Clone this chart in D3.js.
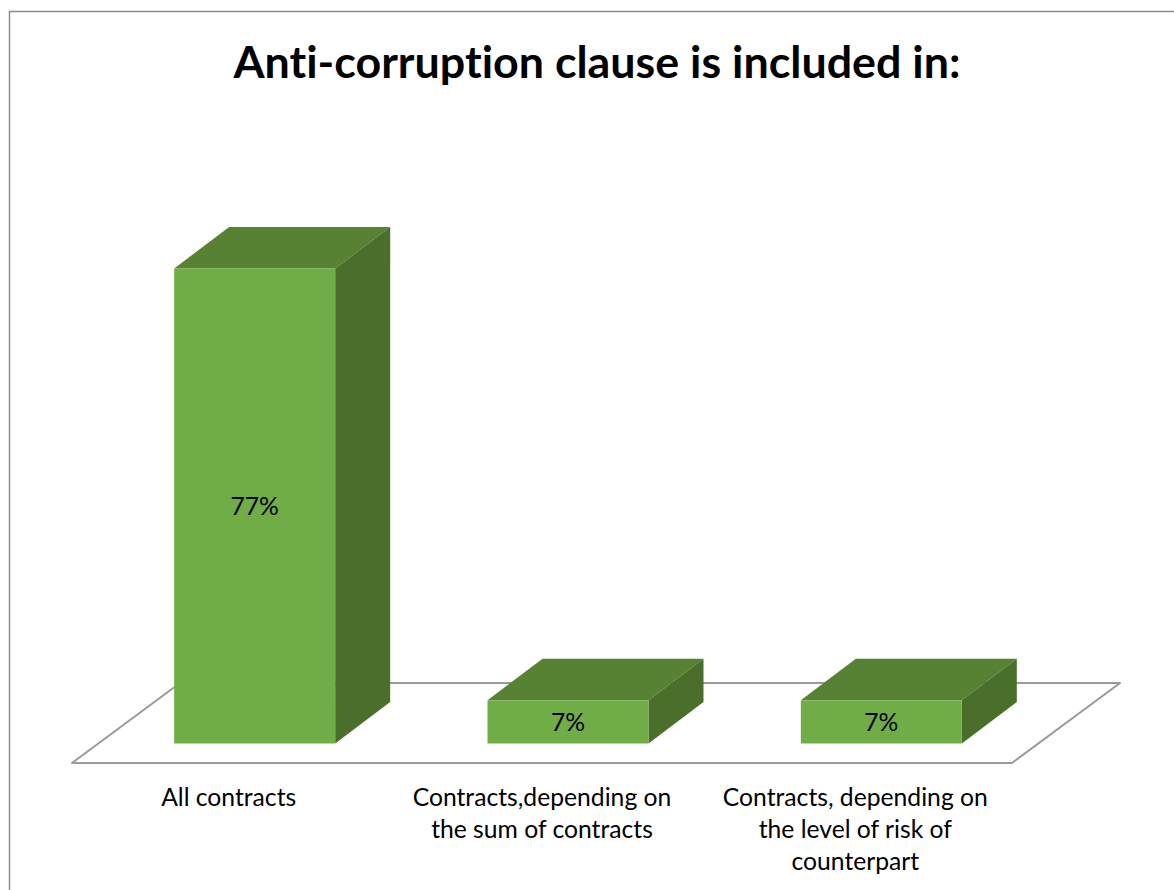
<!DOCTYPE html>
<html>
<head>
<meta charset="utf-8">
<script src="https://cdn.jsdelivr.net/npm/d3@7/dist/d3.min.js"></script>
<style>
  html, body { margin: 0; padding: 0; background: #fff; }
  svg { display: block; }
  text { font-family: Lato, "Open Sans", sans-serif; fill: #000; font-variant-ligatures: none; }
</style>
</head>
<body>
<div id="chart"></div>
<script>
var categories = [
    ["All contracts"],
    ["Contracts,depending on", "the sum of contracts"],
    ["Contracts, depending on", "the level of risk of", "counterpart"]
];
var values = [77, 7, 7];
var chartTitle = "Anti-corruption clause is included in:";

var width = 1174, height = 890;
var floor = {left: 72, right: 1012, front: 763, dx: 108, dy: -80};
var depth = {dx: 55, dy: -41.5};
var barWidth = 161;
var baseY = 743.5;
var colors = {front: "#70ad47", top: "#578234", side: "#4a6f2b", line: "#9a9a9a", frame: "#8c8c8c"};

var svg = d3.select("#chart").append("svg")
    .attr("width", width)
    .attr("height", height);

// outer chart frame, only the top and left edges fall inside the page
svg.append("path")
    .attr("d", "M9.5," + height + "V11.5H" + width)
    .attr("fill", "none")
    .attr("stroke", colors.frame)
    .attr("stroke-width", 1.5);

svg.append("text")
    .attr("x", 597)
    .attr("y", 78)
    .attr("text-anchor", "middle")
    .attr("font-size", 44.8)
    .attr("font-weight", 700)
    .text(chartTitle);

var xScale = d3.scaleBand()
    .domain(d3.range(categories.length))
    .range([floor.left, floor.right]);

var yScale = d3.scaleLinear()
    .domain([0, 100])
    .range([baseY, 126.6]);

// floor plane of the 3D plot
svg.append("polygon")
    .attr("points", [
        [floor.left, floor.front],
        [floor.right, floor.front],
        [floor.right + floor.dx, floor.front + floor.dy],
        [floor.left + floor.dx, floor.front + floor.dy]
    ].join(" "))
    .attr("fill", "none")
    .attr("stroke", colors.line)
    .attr("stroke-width", 2)
    .attr("stroke-linejoin", "round");

var bars = svg.selectAll("g.bar")
    .data(values)
    .enter()
    .append("g")
    .attr("class", "bar");

function barLeft(i) {
    return xScale(i) + xScale.bandwidth() / 2 + 26 - barWidth / 2;
}

bars.append("polygon")
    .attr("points", function(d, i) {
        var x0 = barLeft(i), x1 = x0 + barWidth, y = yScale(d);
        return [[x0, y], [x1, y], [x1 + depth.dx, y + depth.dy], [x0 + depth.dx, y + depth.dy]].join(" ");
    })
    .attr("fill", colors.top);

bars.append("polygon")
    .attr("points", function(d, i) {
        var x1 = barLeft(i) + barWidth, y = yScale(d);
        return [[x1, y], [x1 + depth.dx, y + depth.dy], [x1 + depth.dx, baseY + depth.dy], [x1, baseY]].join(" ");
    })
    .attr("fill", colors.side);

bars.append("rect")
    .attr("x", function(d, i) { return barLeft(i); })
    .attr("y", function(d) { return yScale(d); })
    .attr("width", barWidth)
    .attr("height", function(d) { return baseY - yScale(d); })
    .attr("fill", colors.front);

bars.append("text")
    .attr("x", function(d, i) { return barLeft(i) + barWidth / 2; })
    .attr("y", function(d) { return (yScale(d) + baseY) / 2 + 9; })
    .attr("text-anchor", "middle")
    .attr("font-size", 24.7)
    .text(function(d) { return d + "%"; });

// category labels under the floor, one line per row
var labels = svg.selectAll("text.category")
    .data(categories)
    .enter()
    .append("text")
    .attr("class", "category")
    .attr("text-anchor", "middle")
    .attr("font-size", 24.7);

labels.selectAll("tspan")
    .data(function(d, i) { return d.map(function(line) { return {line: line, i: i}; }); })
    .enter()
    .append("tspan")
    .attr("x", function(d) { return xScale(d.i) + xScale.bandwidth() / 2; })
    .attr("y", function(d, j) { return 806 + j * 32; })
    .text(function(d) { return d.line; });
</script>
</body>
</html>
